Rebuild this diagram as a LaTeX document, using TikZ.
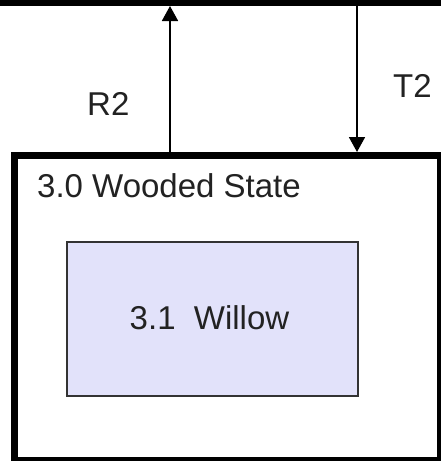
\documentclass[tikz,border=0pt]{standalone}
\usepackage{fontspec}
\setmainfont{Liberation Sans}
\usetikzlibrary{arrows.meta}
\definecolor{lav}{RGB}{226,226,250}
\definecolor{txt}{RGB}{34,34,34}
\tikzset{
  lbl/.style={inner sep=0pt, text=txt, font=\fontsize{33}{40}\selectfont},
  flow/.style={line width=1.8pt, -{Triangle[width=16pt,length=15pt]}},
  statebox/.style={draw=black, line width=7pt, minimum width=426pt, minimum height=305pt, inner sep=0pt},
  subbox/.style={draw=black!80, line width=1.8pt, fill=lav, minimum width=291pt, minimum height=154pt, inner sep=0pt, outer sep=0pt},
}
\begin{document}
\begin{tikzpicture}[x=1pt,y=-1pt]
\useasboundingbox (0,0) rectangle (441,461);
\clip (0,0) rectangle (441,461);
\fill[white] (0,0) rectangle (441,461);
% upper state (only its bottom edge shows)
\node[draw=black, line width=6pt, minimum width=520pt, minimum height=100pt, inner sep=0pt, anchor=south, outer sep=0pt] (upper) at (220.5,3) {};
% wooded state
\node[statebox, anchor=north west, outer sep=0pt] (outer) at (14.5,155.5) {};
\node[lbl, anchor=base west] (otitle) at (37,197) {3.0 Wooded State};
\node[subbox, anchor=north west] (willow) at (67,242) {};
\node[lbl, anchor=base] (wtitle) at (209.5,329) {3.1\ \ Willow};
% connectors
\coordinate (r2a) at (170,152);
\coordinate (r2b) at (170,6);
\coordinate (t2a) at (357,6);
\coordinate (t2b) at (357,152);
\draw[flow] (r2a) -- (r2b);
\draw[flow] (t2a) -- (t2b);
\node[lbl, anchor=base west] (r2) at (87,115) {R2};
\node[lbl, anchor=base west] (t2) at (393,97) {T2};
\end{tikzpicture}
\end{document}
